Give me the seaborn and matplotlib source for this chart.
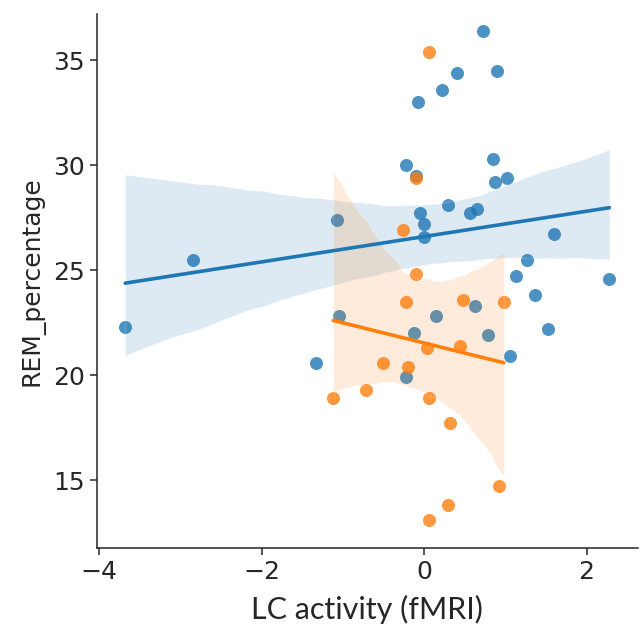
import numpy as np
import pandas as pd
import matplotlib
matplotlib.use("Agg")
import matplotlib.pyplot as plt
import seaborn as sns

sns.set_style("ticks")
plt.rcParams['font.family'] = ['DejaVu Sans']

# group 1 (blue)
blue_x = [-3.68, -2.84, -1.33, -1.07, -1.05, -0.22, -0.22, -0.12, -0.10, -0.08, -0.05,
          0.00, 0.00, 0.14, 0.22, 0.29, 0.41, 0.57, 0.62, 0.65, 0.72, 0.79, 0.85,
          0.87, 0.90, 1.02, 1.06, 1.13, 1.27, 1.36, 1.53, 1.60, 2.28]
blue_y = [22.3, 25.5, 20.6, 27.4, 22.8, 30.0, 19.9, 22.0, 29.5, 33.0, 27.7,
          27.2, 26.6, 22.8, 33.6, 28.1, 34.4, 27.7, 23.3, 27.9, 36.4, 21.9, 30.3,
          29.2, 34.5, 29.4, 20.9, 24.7, 25.5, 23.8, 22.2, 26.7, 24.6]
# group 2 (orange)
orange_x = [-1.12, -0.71, -0.51, -0.26, -0.22, -0.20, -0.10, -0.10, 0.03, 0.06,
            0.06, 0.06, 0.29, 0.32, 0.44, 0.48, 0.92, 0.98]
orange_y = [18.9, 19.3, 20.6, 26.9, 23.5, 20.4, 29.4, 24.8, 21.3, 35.4,
            18.9, 13.1, 13.8, 17.7, 21.4, 23.6, 14.7, 23.5]

df = pd.DataFrame({
    "LC": blue_x + orange_x,
    "REM_percentage": blue_y + orange_y,
    "group": ["a"] * len(blue_x) + ["b"] * len(orange_x),
})

colors = {"a": "#1f77b4", "b": "#ff7f0e"}

fig, ax = plt.subplots(figsize=(6.41, 6.36), dpi=100)
for g, sub in df.groupby("group"):
    sns.regplot(data=sub, x="LC", y="REM_percentage", ax=ax, color=colors[g],
                seed=3, scatter_kws={"s": 88, "alpha": 0.8, "linewidths": 0},
                line_kws={"lw": 2.6})
sns.despine(ax=ax)

ax.set_xlim(-4.03, 2.63)
ax.set_ylim(11.76, 37.2)
ax.set_xticks([-4, -2, 0, 2])
ax.set_yticks([15, 20, 25, 30, 35])
ax.tick_params(labelsize=18, length=5, width=1.1)
ax.set_ylabel("REM_percentage", fontsize=18, labelpad=6)
ax.set_xlabel("LC activity (fMRI)", fontsize=22, family=["Lato", "DejaVu Sans"],
              labelpad=8)
for s in ax.spines.values():
    s.set_linewidth(1.1)

fig.subplots_adjust(left=0.151, right=0.995, bottom=0.138, top=0.978)
fig.savefig("out.png", dpi=100)
